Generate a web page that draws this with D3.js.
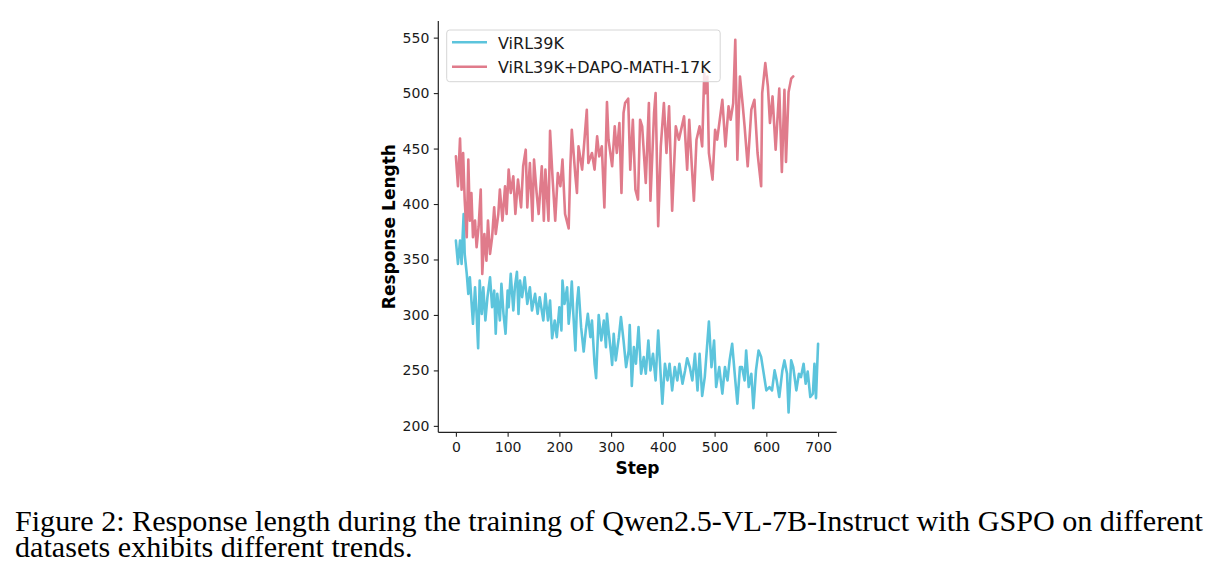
<!DOCTYPE html>
<html>
<head>
<meta charset="utf-8">
<script src="https://cdn.jsdelivr.net/npm/d3@7"></script>
<style>
  body { margin: 0; background: #fff; }
  svg { display: block; }
</style>
</head>
<body>
<div id="chart"></div>
<script>
// [step, response length]
var virlSeries = [
  [0,367],[4,346],[8,367],[11,346],[13,370],[15,391],[17,355],[21,337],[24,319],[27,334],
  [30,313],[33,292],[37,325],[40,301],[43,270],[46,331],[50,301],[53,325],[57,295],[61,316],
  [66,334],[70,307],[74,322],[77,283],[80,319],[85,295],[88,328],[92,301],[96,283],[100,322],
  [102,307],[106,337],[111,304],[114,325],[118,339],[121,301],[124,331],[128,316],[133,334],[138,310],
  [143,325],[147,304],[153,319],[158,301],[162,316],[169,295],[173,319],[178,295],[182,313],[186,279],
  [191,295],[195,280],[200,307],[204,286],[206,331],[210,310],[215,325],[218,292],[221,307],[224,330],
  [227,301],[231,268],[234,310],[237,325],[242,289],[247,267],[251,286],[255,301],[260,280],[263,295],
  [268,256],[271,243],[276,300],[281,277],[286,295],[290,271],[292,301],[295,286],[300,265],[302,255],
  [305,283],[309,259],[315,280],[319,298],[324,277],[329,253],[334,268],[336,291],[340,236],[344,271],
  [348,256],[353,289],[358,247],[363,262],[367,247],[372,277],[376,250],[381,265],[386,241],[391,286],
  [396,244],[399,220],[404,256],[409,241],[413,256],[418,232],[423,253],[428,241],[432,256],[438,238],
  [443,250],[447,261],[452,253],[457,241],[462,265],[467,232],[471,265],[476,227],[481,244],[489,294],
  [494,253],[499,277],[503,235],[509,253],[515,229],[520,253],[525,241],[529,259],[534,274],[540,241],
  [544,220],[549,253],[553,253],[558,241],[561,268],[566,235],[571,247],[575,216],[580,250],[585,268],
  [590,262],[594,250],[600,232],[606,235],[611,232],[616,250],[620,241],[625,226],[631,250],[635,259],
  [640,247],[643,212],[648,259],[652,253],[658,232],[663,247],[667,244],[672,256],[676,238],[680,249],
  [685,226],[690,229],[693,256],[696,225],[698,250],[700,274]
];

var dapoSeries = [
  [0,443],[4,416],[8,459],[11,413],[14,446],[17,404],[21,370],[24,440],[27,385],[30,410],
  [33,370],[37,385],[40,361],[44,380],[48,413],[51,337],[55,373],[59,349],[62,385],[66,355],
  [70,370],[74,397],[77,373],[82,391],[85,413],[90,385],[95,416],[98,391],[102,431],[106,410],
  [111,425],[115,391],[120,422],[126,397],[130,434],[135,449],[138,397],[143,437],[148,385],[151,440],
  [156,410],[160,391],[166,434],[170,385],[173,431],[179,385],[182,466],[187,422],[192,385],[197,428],
  [202,416],[206,440],[211,391],[218,378],[221,431],[224,467],[231,425],[234,410],[237,452],[244,431],
  [249,461],[253,485],[256,437],[263,446],[268,431],[273,461],[277,443],[282,452],[287,397],[292,492],
  [295,458],[302,434],[307,470],[311,446],[316,473],[320,410],[324,482],[327,491],[333,495],[337,431],
  [342,476],[347,413],[352,404],[356,476],[360,470],[367,419],[373,491],[376,403],[383,482],[386,500],
  [391,380],[396,452],[402,491],[407,446],[412,488],[418,394],[425,470],[431,458],[441,479],[447,431],
  [451,476],[456,434],[460,403],[465,458],[471,470],[476,452],[480,518],[483,500],[486,515],[489,446],
  [496,422],[501,467],[505,458],[515,494],[521,452],[527,488],[531,476],[536,491],[540,548],[544,440],
  [549,515],[554,491],[558,470],[564,434],[571,485],[577,494],[583,446],[590,416],[592,500],[598,527],
  [603,506],[607,473],[612,497],[618,449],[625,504],[630,429],[635,503],[638,438],[643,501],[648,513],
  [652,515]
];

var seriesNames = ["ViRL39K", "ViRL39K+DAPO-MATH-17K"];
var seriesColors = ["#5cc4dc", "#e07b8b"];
var xTicks = [0, 100, 200, 300, 400, 500, 600, 700];
var yTicks = [200, 250, 300, 350, 400, 450, 500, 550];
var captionLines = [
  "Figure 2: Response length during the training of Qwen2.5-VL-7B-Instruct with GSPO on different",
  "datasets exhibits different trends."
];

(function () {
  var width = 1218;
  var height = 586;
  var plotLeft = 438.3, plotRight = 836.7, plotTop = 21, plotBottom = 432.3;

  var svg = d3.select("#chart").append("svg")
    .attr("width", width)
    .attr("height", height);

  var x = d3.scaleLinear().domain([-34, 736]).range([plotLeft, plotRight]);
  var y = d3.scaleLinear().domain([194.2, 565]).range([plotBottom, plotTop]);

  var line = d3.line()
    .x(function (d) { return x(d[0]); })
    .y(function (d) { return y(d[1]); });

  var tickFont = "'DejaVu Sans', sans-serif";

  // axes
  var xAxis = svg.append("g")
    .attr("transform", "translate(0," + plotBottom + ")")
    .call(d3.axisBottom(x).tickValues(xTicks).tickSize(4.5).tickPadding(5).tickSizeOuter(0));
  var yAxis = svg.append("g")
    .attr("transform", "translate(" + plotLeft + ",0)")
    .call(d3.axisLeft(y).tickValues(yTicks).tickSize(4.5).tickPadding(4.5).tickSizeOuter(0));

  [xAxis, yAxis].forEach(function (g) {
    g.select(".domain").attr("stroke", "#222").attr("stroke-width", 1.2);
    g.selectAll(".tick line").attr("stroke", "#222").attr("stroke-width", 1.1);
    g.selectAll(".tick text")
      .attr("fill", "#1a1a1a")
      .style("font-family", tickFont)
      .style("font-size", "14px");
  });
  // spines over the full axes box
  xAxis.select(".domain").attr("d", "M" + plotLeft + ",0H" + plotRight);
  yAxis.select(".domain").attr("d", "M0," + plotTop + "V" + plotBottom);

  // lines
  [virlSeries, dapoSeries].forEach(function (s, i) {
    svg.append("path")
      .datum(s)
      .attr("fill", "none")
      .attr("stroke", seriesColors[i])
      .attr("stroke-width", 2.6)
      .attr("stroke-linejoin", "round")
      .attr("stroke-linecap", "round")
      .attr("d", line);
  });

  // axis labels
  svg.append("text")
    .attr("x", (plotLeft + plotRight) / 2)
    .attr("y", 473.5)
    .attr("text-anchor", "middle")
    .style("font-family", tickFont)
    .style("font-weight", "bold")
    .style("font-size", "17px")
    .attr("fill", "#000")
    .text("Step");

  svg.append("text")
    .attr("transform", "translate(395," + (plotTop + plotBottom) / 2 + ") rotate(-90)")
    .attr("text-anchor", "middle")
    .style("font-family", tickFont)
    .style("font-weight", "bold")
    .style("font-size", "17px")
    .attr("fill", "#000")
    .text("Response Length");

  // legend
  var legend = svg.append("g");
  legend.append("rect")
    .attr("x", 446.7)
    .attr("y", 30)
    .attr("width", 273.5)
    .attr("height", 51.7)
    .attr("rx", 3)
    .attr("fill", "#fff")
    .attr("fill-opacity", 0.8)
    .attr("stroke", "#d6d6d6")
    .attr("stroke-width", 1);

  seriesNames.forEach(function (name, i) {
    var ly = 42.3 + i * 24.4;
    legend.append("line")
      .attr("x1", 452).attr("x2", 487)
      .attr("y1", ly).attr("y2", ly)
      .attr("stroke", seriesColors[i])
      .attr("stroke-width", 2.6);
    legend.append("text")
      .attr("x", 498)
      .attr("y", ly + 6.5)
      .style("font-family", tickFont)
      .style("font-size", "16px")
      .attr("fill", "#1a1a1a")
      .text(name);
  });

  // caption: taller glyphs than Liberation Serif at the same width, so squeeze horizontally
  var captionSize = 29;
  var cap = svg.append("g");
  var capText = captionLines.map(function (t, i) {
    return cap.append("text")
      .attr("x", 15)
      .attr("y", 531 + i * 26)
      .style("font-family", "'Liberation Serif', 'Times New Roman', serif")
      .style("font-size", captionSize + "px")
      .attr("fill", "#000")
      .text(t);
  });
  var squeeze = 1188 / capText[0].node().getComputedTextLength();
  capText.forEach(function (t) {
    var w = t.node().getComputedTextLength();
    t.attr("textLength", w * squeeze).attr("lengthAdjust", "spacingAndGlyphs");
  });
}());
</script>
</body>
</html>
